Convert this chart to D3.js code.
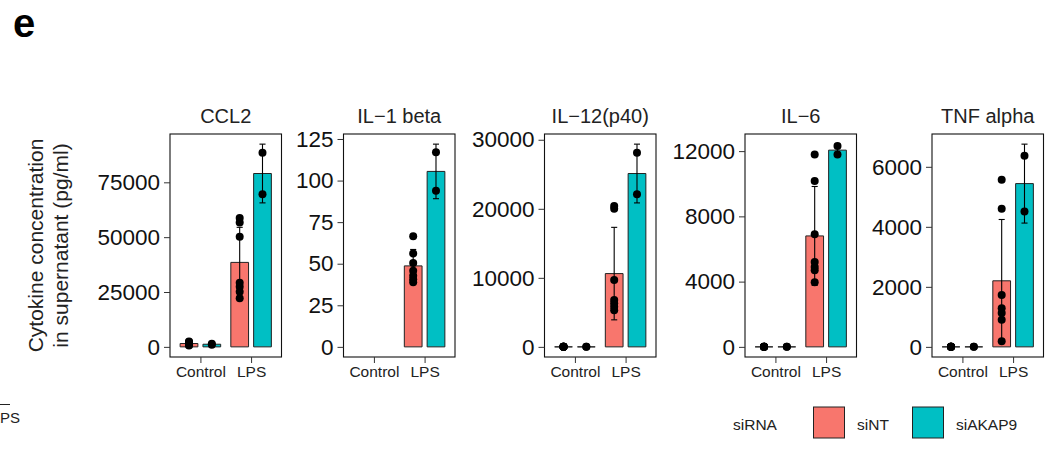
<!DOCTYPE html>
<html lang="en">
<head>
<meta charset="UTF-8">
<title>Cytokine concentration</title>
<style>
    body { margin: 0; background: #fff; }
    svg { display: block; font-family: "Liberation Sans", Arial, sans-serif; }
    .frame { fill: none; stroke: #111; stroke-width: 1.1px; }
    .tick line { stroke: #333; }
</style>
</head>
<body>
<svg id="chart" width="1058" height="450"></svg>

<script src="https://d3js.org/d3.v7.min.js"></script>
<script>
    // categories
    const cytokines = ["CCL2", "IL\u22121 beta", "IL\u221212(p40)", "IL\u22126", "TNF alpha"];
    const treatments = ["Control", "LPS"];
    const sirnas = ["siNT", "siAKAP9"];
    const sirnaColors = ["#F8766D", "#00BFC4"];

    // y tick labels per panel
    const yTicks = [
        [0, 25000, 50000, 75000],
        [0, 25, 50, 75, 100, 125],
        [0, 10000, 20000, 30000],
        [0, 4000, 8000, 12000],
        [0, 2000, 4000, 6000]
    ];

    // replicate values: Control siNT, Control siAKAP9, LPS siNT, LPS siAKAP9
    const ccl2Points = [
        [2500, 2200, 1800, 1500, 1200, 900, 600],
        [1400, 1000],
        [58770, 56680, 50140, 29230, 27420, 25140, 22120],
        [88480, 69550]
    ];
    const il1bPoints = [
        [],
        [],
        [66.5, 56.2, 50.4, 45.7, 42.7, 40.6, 38.8],
        [117.1, 93.9]
    ];
    const il12Points = [
        [0, 0, 0, 0, 0, 0, 0],
        [0, 0],
        [20400, 20000, 9700, 6800, 6300, 5800, 5300],
        [28120, 22100]
    ];
    const il6Points = [
        [0, 0, 0, 0, 0, 0, 0],
        [0, 0],
        [11800, 10170, 6900, 5200, 4890, 4690, 3960],
        [12320, 11800]
    ];
    const tnfPoints = [
        [0, 0, 0, 0, 0, 0, 0],
        [0, 0],
        [5570, 4600, 1730, 1290, 1130, 900, 190],
        [6370, 4510]
    ];
    const allPoints = [ccl2Points, il1bPoints, il12Points, il6Points, tnfPoints];

    // layout
    const panelLeft = [170, 343.5, 544.5, 745, 932];
    const panelW = 111.5, panelTop = 134, panelBottom = 357;
    const dodge = 0.45, barW = 0.35, capW = 0.12;

    const svg = d3.select("#chart");

    svg.append("text")
        .attr("x", 13).attr("y", 37)
        .attr("font-size", 40).attr("font-weight", "bold")
        .attr("fill", "#000")
        .text("e");

    // y axis title
    const yTitle = svg.append("text")
        .attr("transform", "translate(43,245.5) rotate(-90)")
        .attr("text-anchor", "middle")
        .attr("font-size", 21)
        .attr("fill", "#222");
    yTitle.append("tspan").attr("x", 0).attr("dy", 0).text("Cytokine concentration");
    yTitle.append("tspan").attr("x", 0).attr("dy", 25).text("in supernatant (pg/ml)");

    cytokines.forEach((name, i) => {
        const groups = allPoints[i];
        const stats = groups.map((vals, k) => {
            if (!vals.length) return null;
            const m = d3.mean(vals);
            const sd = vals.length > 1 ? d3.deviation(vals) : 0;
            return {
                treat: treatments[Math.floor(k / 2)],
                sirna: k % 2,
                mean: m, lo: m - sd, hi: m + sd, vals: vals
            };
        }).filter(d => d);

        const maxY = d3.max(stats, d => Math.max(d.hi, d3.max(d.vals)));
        const pad = maxY * 0.05;

        const x = d3.scalePoint()
            .domain(treatments)
            .range([0, panelW])
            .padding(0.6);
        const unit = x.step();
        const y = d3.scaleLinear()
            .domain([-pad, maxY + pad])
            .range([panelBottom - panelTop, 0]);

        const g = svg.append("g")
            .attr("transform", `translate(${panelLeft[i]},${panelTop})`);

        const cx = d => x(d.treat) + (d.sirna === 0 ? -1 : 1) * dodge / 2 * unit;

        // bars (path so that zero-height bars still draw their outline)
        g.selectAll(".bar")
            .data(stats)
          .enter().append("path")
            .attr("class", "bar")
            .attr("d", d => {
                const x0 = cx(d) - barW / 2 * unit, w = barW * unit;
                return `M${x0},${y(0)}h${w}V${y(d.mean)}h${-w}Z`;
            })
            .attr("fill", d => sirnaColors[d.sirna])
            .attr("stroke", "#222")
            .attr("stroke-width", 1);

        // error bars
        const eb = g.selectAll(".err")
            .data(stats)
          .enter().append("g")
            .attr("class", "err")
            .attr("stroke", "#000")
            .attr("stroke-width", 1.1);
        eb.append("line")
            .attr("x1", cx).attr("x2", cx)
            .attr("y1", d => y(d.lo)).attr("y2", d => y(d.hi));
        eb.append("line")
            .attr("x1", d => cx(d) - capW / 2 * unit).attr("x2", d => cx(d) + capW / 2 * unit)
            .attr("y1", d => y(d.hi)).attr("y2", d => y(d.hi));
        eb.append("line")
            .attr("x1", d => cx(d) - capW / 2 * unit).attr("x2", d => cx(d) + capW / 2 * unit)
            .attr("y1", d => y(d.lo)).attr("y2", d => y(d.lo));

        // replicate points
        const pts = stats.flatMap(d => d.vals.map(v => ({ x: cx(d), v: v })));
        g.selectAll(".pt")
            .data(pts)
          .enter().append("circle")
            .attr("class", "pt")
            .attr("cx", d => d.x)
            .attr("cy", d => y(d.v))
            .attr("r", 4)
            .attr("fill", "#000");

        // frame
        g.append("rect")
            .attr("class", "frame")
            .attr("width", panelW)
            .attr("height", panelBottom - panelTop);

        // axes
        const yAxis = g.append("g")
            .call(d3.axisLeft(y).tickValues(yTicks[i]).tickSize(6).tickPadding(4).tickFormat(d3.format("d")));
        yAxis.select(".domain").remove();
        yAxis.selectAll("text").attr("font-size", 22.5).attr("fill", "#111").attr("font-family", null);

        const xAxis = g.append("g")
            .attr("transform", `translate(0,${panelBottom - panelTop})`)
            .call(d3.axisBottom(x).tickSize(6).tickPadding(3));
        xAxis.select(".domain").remove();
        xAxis.selectAll("text").attr("font-size", 15.5).attr("fill", "#222").attr("font-family", null);

        // panel title
        g.append("text")
            .attr("x", panelW / 2).attr("y", -11)
            .attr("text-anchor", "middle")
            .attr("font-size", 20)
            .attr("fill", "#222")
            .text(name);
    });

    // stray fragment at the lower left (cut off in the original too)
    svg.append("line")
        .attr("x1", 0).attr("x2", 10).attr("y1", 404.5).attr("y2", 404.5)
        .attr("stroke", "#222").attr("stroke-width", 1);
    svg.append("text")
        .attr("x", -8.3).attr("y", 423)
        .attr("font-size", 15).attr("fill", "#222")
        .text("LPS");

    // legend
    const legend = svg.append("g").attr("transform", "translate(733,0)");
    legend.append("text")
        .attr("x", 0).attr("y", 430)
        .attr("font-size", 15.5).attr("fill", "#222")
        .text("siRNA");
    const keyX = [80.5, 179.5];
    sirnas.forEach((s, k) => {
        legend.append("rect")
            .attr("x", keyX[k]).attr("y", 407)
            .attr("width", 31).attr("height", 31)
            .attr("fill", sirnaColors[k])
            .attr("stroke", "#222").attr("stroke-width", 1);
        legend.append("text")
            .attr("x", keyX[k] + 43.5).attr("y", 430)
            .attr("font-size", 15.5).attr("fill", "#222")
            .text(s);
    });
</script>
</body>
</html>
